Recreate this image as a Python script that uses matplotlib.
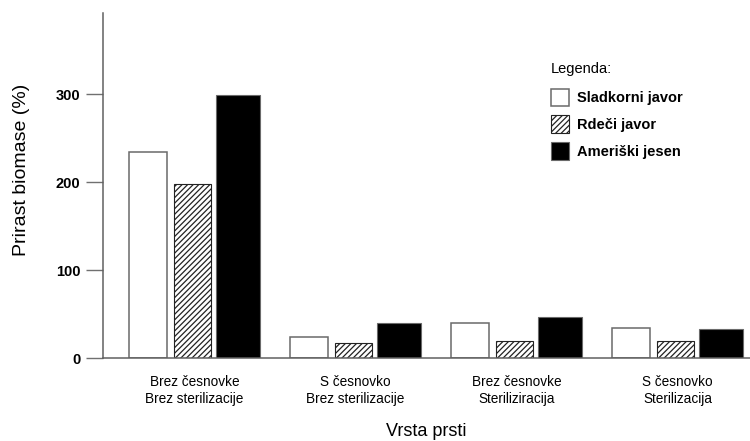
import matplotlib
matplotlib.use("Agg")
import matplotlib.pyplot as plt
import numpy as np

plt.rcParams['font.family'] = ['Liberation Sans', 'DejaVu Sans']
plt.rcParams['hatch.linewidth'] = 0.9

groups = ["Brez česnovke\nBrez sterilizacije", "S česnovko\nBrez sterilizacije",
          "Brez česnovke\nSteriliziracija", "S česnovko\nSterilizacija"]
series = ["Sladkorni javor", "Rdeči javor", "Ameriški jesen"]
sladkorni = [234, 24, 40, 34]
rdeci = [198, 17, 19, 19]
jesen = [299, 40, 47, 33]
yticks = [0, 100, 200, 300]

fig = plt.figure(figsize=(7.5, 4.41), dpi=100)
ax = fig.add_axes([0.137, 0.188, 0.863, 0.782])

x = np.arange(len(groups))
edge = '#6a6a6a'
ax.bar(x - 0.29, sladkorni, width=0.235, color='white', edgecolor=edge, linewidth=1.1, label=series[0])
ax.bar(x - 0.015, rdeci, width=0.23, color='white', edgecolor='#222222', hatch='//////', linewidth=0.8, label=series[1])
ax.bar(x + 0.27, jesen, width=0.27, color='black', edgecolor=edge, linewidth=0.8, label=series[2])

ax.set_xlim(-0.57, 3.45)
ax.set_ylim(0, 392)
ax.set_yticks(yticks)
ax.set_yticklabels([str(v) for v in yticks], fontsize=10.5, fontweight='bold')
ax.set_xticks(x)
ax.set_xticklabels(groups, fontsize=9.8, linespacing=1.3)
ax.tick_params(axis='y', length=12, width=1, color='#707070', pad=4)
ax.tick_params(axis='x', length=0, pad=12)

for s in ['top', 'right']:
    ax.spines[s].set_visible(False)
ax.spines['left'].set_color('#606060')
ax.spines['bottom'].set_color('#606060')
ax.spines['left'].set_linewidth(1.1)
ax.spines['bottom'].set_linewidth(1.1)

ax.set_ylabel("Prirast biomase (%)", fontsize=14)
ax.yaxis.set_label_coords(-0.112, 0.545)
ax.set_xlabel("Vrsta prsti", fontsize=13, labelpad=12)

leg = ax.legend(title="Legenda:", loc='upper left', bbox_to_anchor=(538 / 750, 1 - 49 / 441),
                bbox_transform=fig.transFigure, frameon=False, alignment='left',
                handlelength=1.25, handleheight=1.5, handletextpad=0.55, labelspacing=0.62,
                prop={'size': 10.5, 'weight': 'bold'}, title_fontsize=10.5)
leg._legend_box.sep = 9

fig.savefig("out.png", dpi=100)
